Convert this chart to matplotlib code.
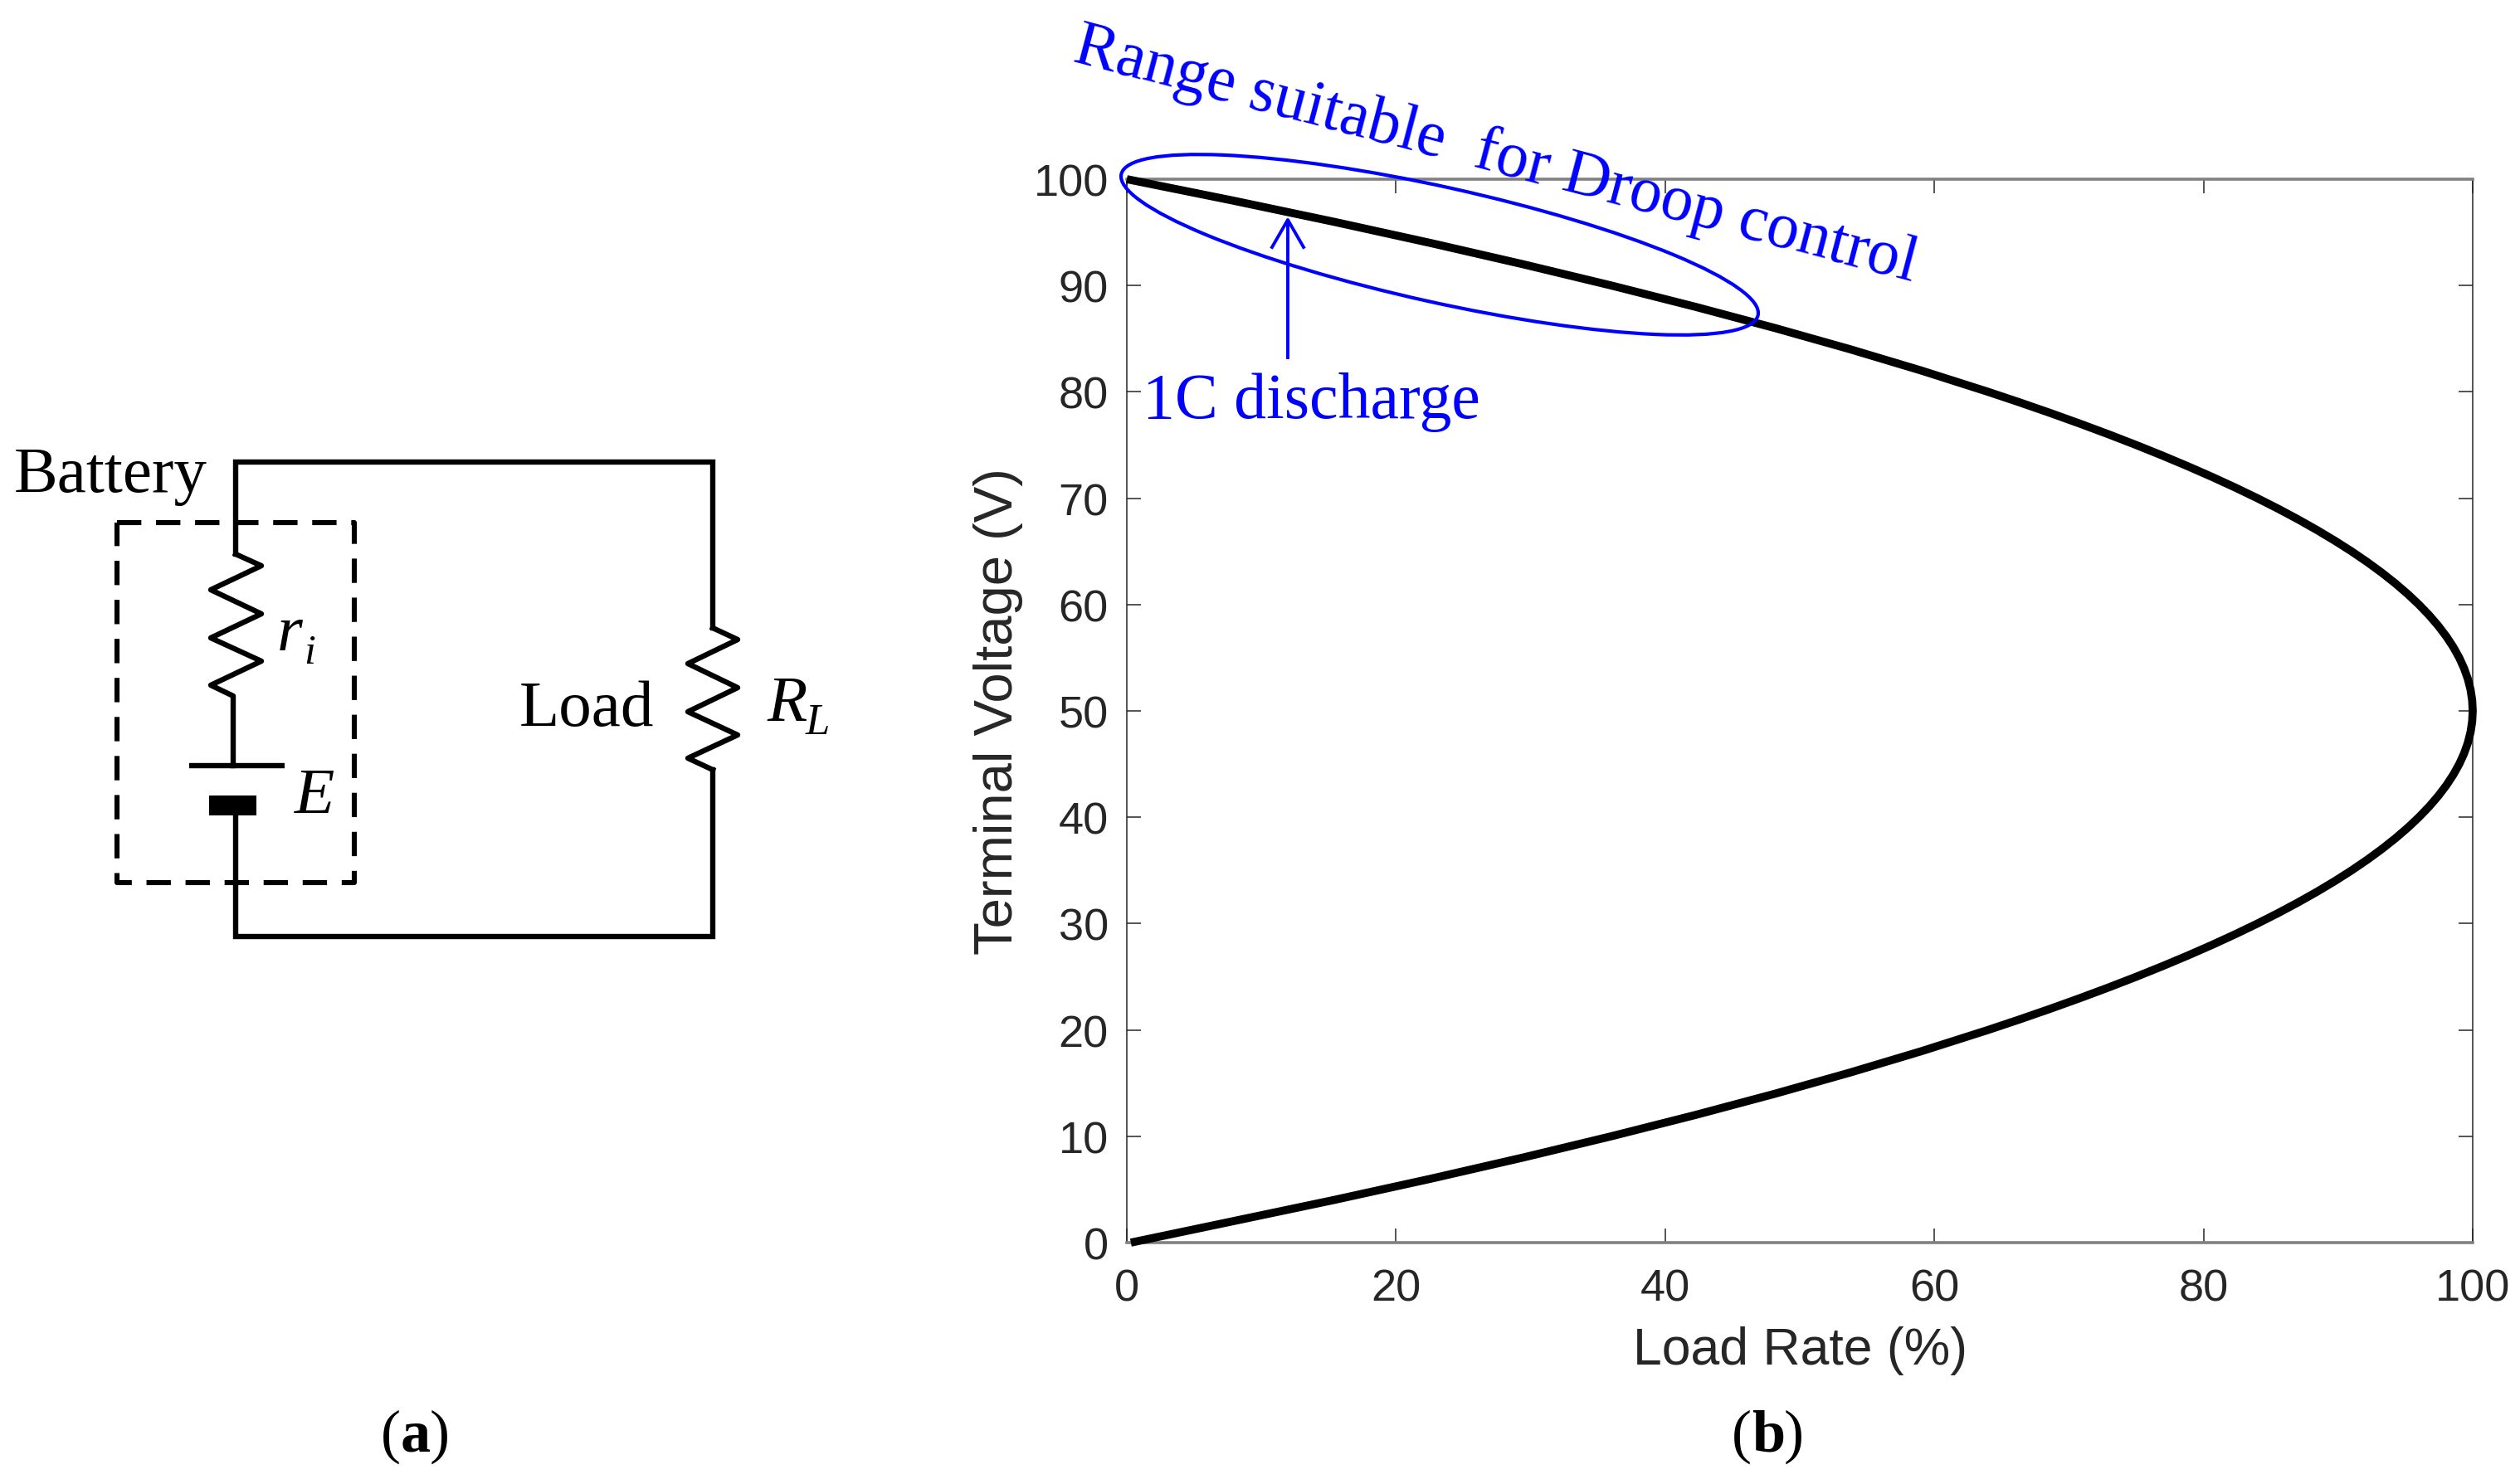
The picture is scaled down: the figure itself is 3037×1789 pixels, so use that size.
import matplotlib
matplotlib.use("Agg")
import matplotlib.pyplot as plt
from matplotlib.patches import Ellipse, Rectangle

# Data
terminal_voltage = [0, 2, 4, 6, 8, 10, 12, 14, 16, 18, 20, 21, 22, 23, 24, 25, 26, 27, 28, 29, 30, 31, 32, 33, 34, 35,
                    36, 37, 38, 39, 40, 41, 42, 43, 44, 45, 46, 47, 48, 49, 50, 51, 52, 53, 54, 55, 56, 57, 58, 59, 60,
                    61, 62, 63, 64, 65, 66, 67, 68, 69, 70, 71, 72, 73, 74, 75, 76, 77, 78, 79, 80,
                    82, 84, 86, 88, 90, 92, 94, 96, 98, 100]
load_rate = [0.3, 7.84, 15.36, 22.56, 29.44, 36.0, 42.24, 48.16, 53.76, 59.04, 64.0, 66.36, 68.64, 70.84, 72.96, 75.0, 76.96, 78.84, 80.64, 82.36, 84.0, 85.56, 87.04, 88.44, 89.76, 91.0,
             92.16, 93.24, 94.24, 95.16, 96.0, 96.76, 97.44, 98.04, 98.56, 99.0, 99.36, 99.64, 99.84, 99.96, 100.0, 99.96, 99.84, 99.64, 99.36, 99.0, 98.56, 98.04, 97.44, 96.76, 96.0,
             95.16, 94.24, 93.24, 92.16, 91.0, 89.76, 88.44, 87.04, 85.56, 84.0, 82.36, 80.64, 78.84, 76.96, 75.0, 72.96, 70.84, 68.64, 66.36, 64.0,
             59.04, 53.76, 48.16, 42.24, 36.0, 29.44, 22.56, 15.36, 7.84, 0.0]
x_ticks = [0, 20, 40, 60, 80, 100]
y_ticks = [0, 10, 20, 30, 40, 50, 60, 70, 80, 90, 100]

W, H = 3037, 1790
L, R, T, B = 1358, 2980, 217, 1499
BLUE = "#0000ff"
SERIF = "Liberation Serif"
SANS = "Liberation Sans"
INK = "#262626"

fig = plt.figure(figsize=(W / 100, H / 100), dpi=100, facecolor="white")

ax = fig.add_axes([L / W, 1 - B / H, (R - L) / W, (B - T) / H])
ax.plot(load_rate, terminal_voltage, color="black", lw=7, clip_on=False, solid_capstyle="butt", zorder=3)
ax.set_xlim(0, 100)
ax.set_ylim(0, 100)
ax.set_xticks(x_ticks)
ax.set_yticks(y_ticks)
ax.tick_params(direction="in", length=12.5, width=1.1, color=INK, labelcolor=INK, labelsize=39,
               top=True, right=True, pad=16)
ax.tick_params(axis="x", pad=22)
for lab in ax.get_xticklabels() + ax.get_yticklabels():
    lab.set_family(SANS)
for side in ("left", "right"):
    ax.spines[side].set_linewidth(1.1)
    ax.spines[side].set_color(INK)
for side in ("top", "bottom"):
    ax.spines[side].set_linewidth(2.6)
    ax.spines[side].set_color("#808080")
ax.set_xlabel("Load Rate (%)", family=SANS, fontsize=45, color=INK, labelpad=14)
ax.set_ylabel("Terminal Voltage (V)", family=SANS, fontsize=47, color=INK, labelpad=9)

# Overlay in image pixels for the circuit and annotations
ov = fig.add_axes([0, 0, 1, 1], zorder=5)
ov.set_xlim(0, W)
ov.set_ylim(H, 0)
ov.axis("off")
ov.patch.set_alpha(0)

wire_lw = 4.6
wire_top = ([284, 284, 859, 859], [669, 558, 558, 758])
wire_bot = ([859, 859, 284, 284], [929, 1130, 1130, 984])
ov.plot(*wire_top, color="k", lw=wire_lw, solid_joinstyle="miter")
ov.plot(*wire_bot, color="k", lw=wire_lw, solid_joinstyle="miter")

ri_x = [284, 315, 254, 315, 254, 315, 254, 281, 281]
ri_y = [669, 683, 712, 741, 770, 798, 827, 840, 924]
rl_x = [859, 889, 829, 889, 829, 889, 829, 859]
rl_y = [758, 772, 801, 830, 859, 887, 915, 929]
ov.plot(ri_x, ri_y, color="k", lw=wire_lw)
ov.plot(rl_x, rl_y, color="k", lw=wire_lw)

ov.plot([228, 343], [924, 924], color="k", lw=wire_lw, solid_capstyle="butt")
ov.add_patch(Rectangle((252, 960), 57, 24, facecolor="k", edgecolor="none"))

ov.plot([141, 427, 427, 141, 141], [631, 631, 1065, 1065, 631], color="k", lw=4.4,
        linestyle=(0, (4.8, 2.9)))

txt = dict(family=SERIF, color="k", ha="left", va="baseline")
ov.text(17, 593, "Battery", fontsize=57, **txt)
ov.text(626, 875, "Load", fontsize=57, **txt)
ov.text(334, 784, "r", fontsize=57, style="italic", **txt)
ov.text(366, 800, "i", fontsize=36, style="italic", **txt)
ov.text(355, 980, "E", fontsize=57, style="italic", **txt)
ov.text(924, 869, "R", fontsize=57, style="italic", **txt)
ov.text(971, 885, "L", fontsize=38, style="italic", **txt)

# Panel letters
ov.text(459, 1750, "(", fontsize=52, **txt)
ov.text(483, 1750, "a", fontsize=52, fontweight="bold", **txt)
ov.text(518, 1750, ")", fontsize=52, **txt)
ov.text(2087, 1750, "(", fontsize=52, **txt)
ov.text(2111, 1750, "b", fontsize=52, fontweight="bold", **txt)
ov.text(2150, 1750, ")", fontsize=52, **txt)

# Annotations
ov.add_patch(Ellipse((1735, 296), 786, 139, angle=12.5, fill=False, edgecolor=BLUE, lw=3.0))
ov.plot([1552, 1552], [432, 268], color=BLUE, lw=2.8)
ov.plot([1533, 1552, 1571], [299, 266, 299], color=BLUE, lw=2.8)
ov.text(1291, 74, "Range suitable  for Droop control", family=SERIF, color=BLUE, fontsize=56,
        rotation=-14.7, rotation_mode="anchor", ha="left", va="baseline")
ov.text(1377, 504, "1C discharge", family=SERIF, color=BLUE, fontsize=56, ha="left", va="baseline")

fig.savefig("out.png", dpi=100)
